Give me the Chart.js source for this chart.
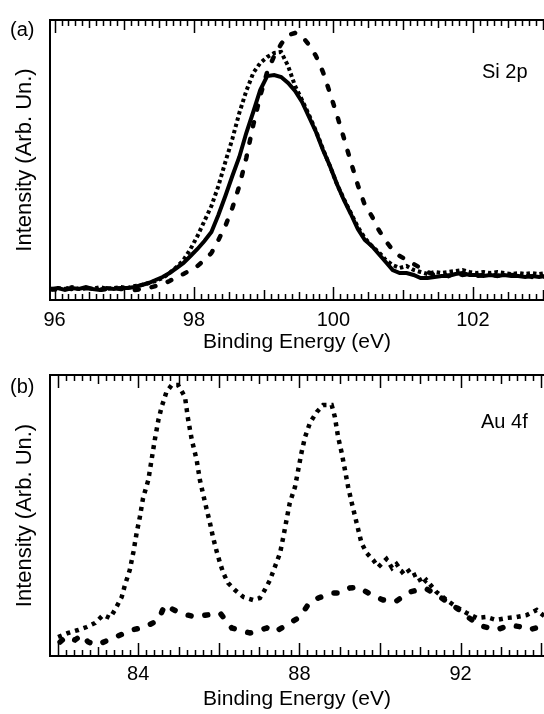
<!DOCTYPE html>
<html lang="en">
<head>
    <meta charset="UTF-8">
    <title>Si 2p / Au 4f XPS</title>
    <script src="https://cdnjs.cloudflare.com/ajax/libs/chart.js/4.4.1/chart.umd.min.js"></script>
    <style>
        body {
            margin: 0;
            background: #fff;
            width: 544px;
            height: 714px;
            overflow: hidden;
            position: relative;
            font-family: 'Liberation Sans', Arial, sans-serif;
        }
        canvas { position: absolute; left: 0; }
        #chartA { top: 0; }
        #chartB { top: 355px; }
        .lbl {
            position: absolute;
            font-size: 20px;
            line-height: 20px;
            color: #000;
            white-space: nowrap;
        }
    </style>
</head>
<body>
    <canvas id="chartA" width="544" height="357"></canvas>
    <canvas id="chartB" width="544" height="359"></canvas>
    <div class="lbl" style="left:10px; top:19px;">(a)</div>
    <div class="lbl" style="left:10px; top:376px;">(b)</div>
    <div class="lbl" style="left:482px; top:61px;">Si 2p</div>
    <div class="lbl" style="left:481px; top:411px;">Au 4f</div>

    <script>
        // panel (a): Si 2p, binding energy grid (eV)
        const SI_E = [
            95.95, 96.05, 96.15, 96.25, 96.35, 96.45, 96.55, 96.65, 96.75, 96.85,
            96.95, 97.05, 97.15, 97.25, 97.35, 97.45, 97.55, 97.65, 97.75, 97.85,
            97.95, 98.05, 98.15, 98.25, 98.35, 98.45, 98.55, 98.65, 98.75, 98.85,
            98.95, 99.05, 99.15, 99.25, 99.35, 99.45, 99.55, 99.65, 99.75, 99.85,
            99.95, 100.05, 100.15, 100.25, 100.35, 100.45, 100.55, 100.65, 100.75, 100.85,
            100.95, 101.05, 101.15, 101.25, 101.35, 101.45, 101.55, 101.65, 101.75, 101.85,
            101.95, 102.05, 102.15, 102.25, 102.35, 102.45, 102.55, 102.65, 102.75, 102.85,
            102.95, 103.05
        ];
        const SI_SOLID = [
            11, 12, 10, 12, 11, 13, 11, 10, 12, 11,
            12, 12, 13, 15, 17, 20, 23, 27, 32, 37,
            44, 51, 59, 68, 85, 104, 124, 143, 167, 188,
            210, 224, 225, 223, 217, 209, 198, 183, 168, 150,
            134, 116, 100, 86, 71, 60, 54, 46, 38, 30,
            27, 27, 25, 22, 22, 23, 24, 24, 26, 27,
            25, 25, 24, 25, 24, 25, 24, 24, 23, 24,
            23, 24
        ];
        const SI_DOTTED = [
            10, 12, 11, 13, 11, 12, 11, 13, 11, 12,
            13, 12, 14, 15, 17, 19, 22, 27, 33, 40,
            51, 64, 79, 94, 114, 138, 161, 187, 209, 227,
            237, 243, 247, 248, 234, 214, 200, 185, 169, 151,
            134, 116, 101, 87, 73, 62, 54, 48, 40, 35,
            32, 34, 30, 28, 26, 28, 27, 28, 29, 30,
            28, 27, 28, 27, 28, 27, 26, 27, 26, 27,
            26, 27
        ];
        const SI_DASHED = [
            11, 10, 12, 11, 10, 12, 11, 10, 11, 12,
            11, 11, 10, 11, 12, 14, 16, 19, 23, 26,
            30, 34, 40, 47, 60, 74, 92, 114, 142, 175,
            204, 228, 244, 256, 265, 267, 264, 255, 244, 228,
            207, 185, 162, 138, 115, 95, 84, 70, 59, 50,
            44, 40, 36, 32, 28, 25, 26, 24, 27, 25,
            26, 24, 25, 26, 24, 26, 25, 24, 25, 23,
            24, 23
        ];
        const SI_TICKS = [96, 98, 100, 102];

        // panel (b): Au 4f
        const AU_DOT_E = [
            82.01, 82.26, 82.51, 82.72, 82.93, 83.13, 83.30, 83.42, 83.59, 83.67,
            83.79, 83.88, 83.96, 84.04, 84.12, 84.25, 84.33, 84.41, 84.50, 84.58,
            84.70, 84.83, 84.99, 85.16, 85.24, 85.33, 85.45, 85.53, 85.66, 85.78,
            85.86, 85.95, 86.03, 86.11, 86.23, 86.40, 86.61, 86.85, 87.02, 87.14,
            87.27, 87.39, 87.52, 87.60, 87.68, 87.76, 87.89, 87.97, 88.05, 88.14,
            88.26, 88.43, 88.59, 88.80, 88.88, 88.96, 89.05, 89.13, 89.21, 89.30,
            89.42, 89.54, 89.67, 89.83, 89.96, 90.16, 90.30, 90.41, 90.55, 90.66,
            90.80, 90.91, 91.05, 91.15, 91.40, 91.65, 91.90, 92.15, 92.40, 92.64,
            92.89, 93.14, 93.39, 93.64, 93.89, 94.10
        ];
        const AU_DOT_I = [
            19, 23, 26, 29, 33, 41, 38, 46, 59, 71,
            86, 104, 123, 139, 158, 176, 196, 216, 236, 249,
            264, 271, 271, 259, 236, 216, 196, 176, 153, 133,
            118, 104, 93, 83, 73, 66, 59, 56, 58, 66,
            76, 89, 103, 119, 136, 153, 169, 186, 203, 219,
            233, 244, 251, 251, 239, 219, 203, 186, 169, 153,
            133, 113, 103, 96, 89, 97, 88, 92, 84, 88,
            80, 82, 72, 76, 64, 56, 49, 43, 38, 39,
            36, 38, 39, 41, 46, 39
        ];
        const AU_DASH_E = [
            82.06, 82.20, 82.43, 82.60, 82.76, 82.97, 83.38, 83.84, 84.17, 84.50,
            84.66, 85.03, 85.41, 85.70, 86.03, 86.32, 86.77, 87.19, 87.39, 87.76,
            88.01, 88.26, 88.47, 88.80, 89.01, 89.25, 89.46, 89.79, 90.08, 90.37,
            90.74, 91.12, 91.49, 91.90, 92.44, 92.89, 93.22, 93.51, 93.68, 94.05
        ];
        const AU_DASH_I = [
            14, 19, 16, 21, 14, 11, 18, 26, 29, 36,
            51, 43, 39, 41, 43, 28, 23, 28, 24, 33,
            39, 54, 58, 63, 63, 68, 69, 61, 56, 54,
            64, 68, 59, 48, 31, 26, 31, 29, 26, 30
        ];
        const AU_TICKS = [84, 88, 92];

        Chart.defaults.font.family = "'Liberation Sans', Arial, sans-serif";
        Chart.defaults.font.size = 20;
        Chart.defaults.color = '#000';

        const toXY = (xs, ys) => xs.map((x, i) => ({ x: x, y: ys[i] }));

        // top frame line and inward tick combs on top and bottom edges
        const frameTicks = {
            id: 'frameTicks',
            afterDraw(chart, args, opts) {
                const { ctx, chartArea: a, scales: { x } } = chart;
                ctx.save();
                ctx.strokeStyle = '#000';
                ctx.lineWidth = 2;
                ctx.beginPath();
                ctx.moveTo(a.left - 1, a.top);
                ctx.lineTo(a.right, a.top);
                ctx.stroke();

                ctx.lineWidth = 1.5;
                const start = Math.ceil(x.min / opts.step);
                const end = Math.floor(x.max / opts.step);
                for (let k = start; k <= end; k++) {
                    const v = k * opts.step;
                    const near = m => Math.abs(v / m - Math.round(v / m)) < 1e-6;
                    let len = opts.minor;
                    if (near(2)) len = opts.major;
                    else if (near(1)) len = opts.mid;
                    else if (opts.half && near(0.5)) len = opts.half;
                    const px = Math.round(x.getPixelForValue(v)) + 0.5;
                    ctx.beginPath();
                    ctx.moveTo(px, a.top);
                    ctx.lineTo(px, a.top + len);
                    ctx.moveTo(px, a.bottom);
                    ctx.lineTo(px, a.bottom - len);
                    ctx.stroke();
                }
                ctx.restore();
            }
        };

        function makePanel(id, cfg) {
            new Chart(document.getElementById(id), {
                type: 'line',
                data: { datasets: cfg.datasets },
                options: {
                    responsive: false,
                    animation: false,
                    layout: { padding: { top: 20, right: 0, bottom: 0, left: 0 } },
                    plugins: {
                        legend: { display: false },
                        tooltip: { enabled: false },
                        frameTicks: cfg.ticks
                    },
                    elements: { point: { radius: 0 }, line: { tension: 0 } },
                    scales: {
                        x: {
                            type: 'linear',
                            min: cfg.xMin,
                            max: cfg.xMax,
                            afterFit: s => { s.height = cfg.xHeight; },
                            afterBuildTicks: s => { s.ticks = cfg.tickValues.map(v => ({ value: v })); },
                            grid: { display: true, drawOnChartArea: false, drawTicks: false },
                            border: { display: true, color: '#000', width: 2 },
                            ticks: { autoSkip: false, maxRotation: 0, padding: cfg.tickPad },
                            title: {
                                display: true,
                                text: 'Binding Energy (eV)',
                                font: { size: 21 },
                                padding: { top: 0, bottom: 2 }
                            }
                        },
                        y: {
                            min: 0,
                            max: cfg.yMax,
                            afterFit: s => { s.width = 50; },
                            grid: { display: true, drawOnChartArea: false, drawTicks: false },
                            border: { display: true, color: '#000', width: 2 },
                            ticks: { display: false },
                            title: {
                                display: true,
                                text: 'Intensity (Arb. Un.)',
                                font: { size: 22 },
                                padding: { top: 12, bottom: 0 }
                            }
                        }
                    }
                },
                plugins: [frameTicks]
            });
        }

        makePanel('chartA', {
            xMin: 95.935, xMax: 103.02, yMax: 280, xHeight: 57, tickPad: 8,
            tickValues: SI_TICKS,
            ticks: { step: 0.1, minor: 6, half: 8, mid: 10, major: 13 },
            datasets: [
                {
                    data: toXY(SI_E, SI_DOTTED),
                    borderColor: '#000', borderWidth: 4,
                    borderDash: [3.5, 3], borderCapStyle: 'butt'
                },
                {
                    data: toXY(SI_E, SI_DASHED),
                    borderColor: '#000', borderWidth: 4.5,
                    borderDash: [4, 13], borderCapStyle: 'round'
                },
                {
                    data: toXY(SI_E, SI_SOLID),
                    borderColor: '#000', borderWidth: 4
                }
            ]
        });

        makePanel('chartB', {
            xMin: 81.81, xMax: 94.07, yMax: 281, xHeight: 58, tickPad: 6,
            tickValues: AU_TICKS,
            ticks: { step: 0.2, minor: 6, half: 0, mid: 9, major: 13 },
            datasets: [
                {
                    data: toXY(AU_DOT_E, AU_DOT_I),
                    borderColor: '#000', borderWidth: 4.5,
                    borderDash: [4, 5], borderCapStyle: 'butt'
                },
                {
                    data: toXY(AU_DASH_E, AU_DASH_I),
                    borderColor: '#000', borderWidth: 5.5,
                    borderDash: [3, 14], borderCapStyle: 'round'
                }
            ]
        });
    </script>
</body>
</html>
